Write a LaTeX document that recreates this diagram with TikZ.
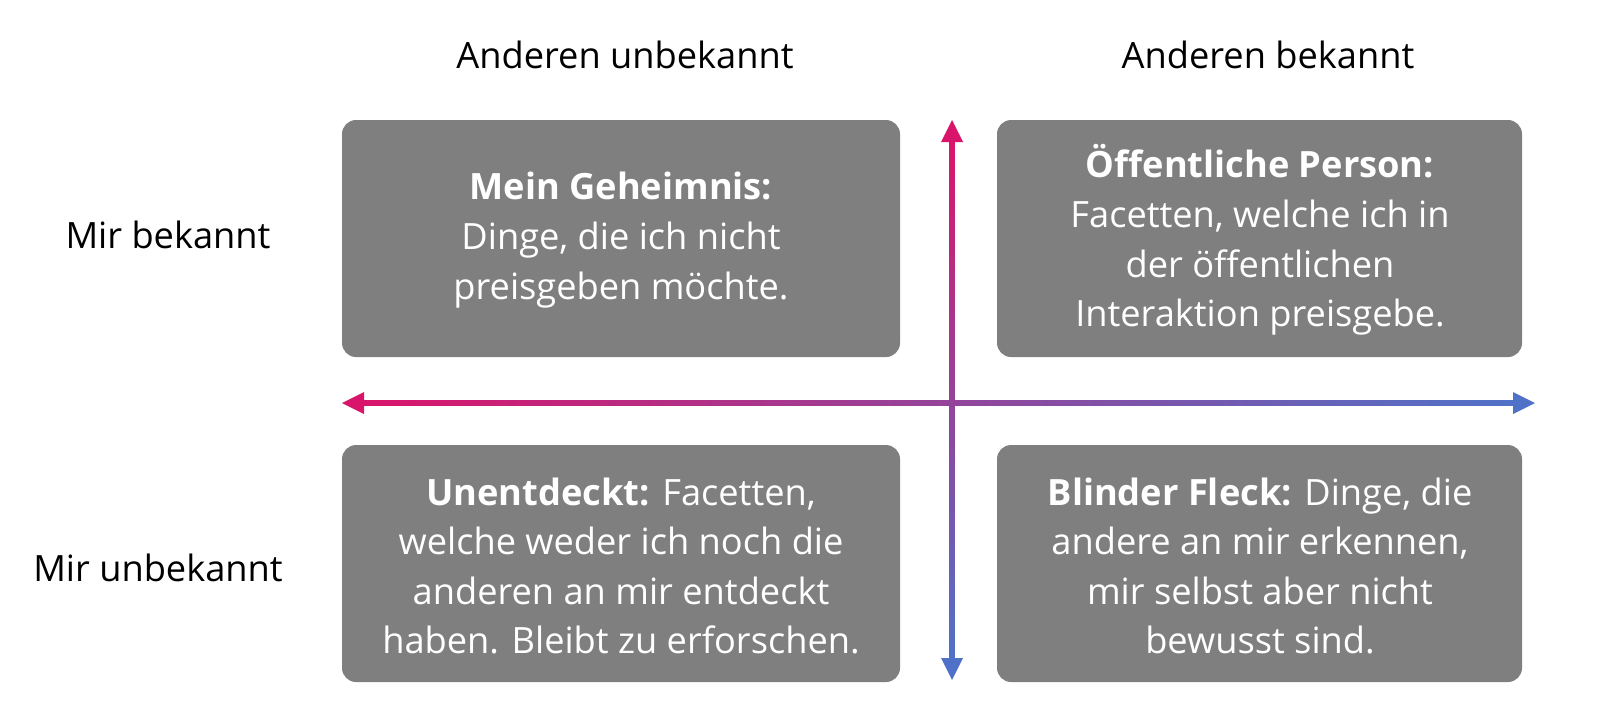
\documentclass[tikz,border=0pt]{standalone}
\usepackage{fontspec}
\setmainfont{Open Sans}
\definecolor{mag}{HTML}{D9156B}
\definecolor{blu}{HTML}{4F72C8}
\definecolor{boxg}{HTML}{7F7F7F}
\begin{document}
\begin{tikzpicture}[x=0.01cm,y=-0.01cm,
  quad/.style={fill=boxg,rounded corners=4pt,draw=none},
  qtext/.style={text=white,align=center,font=\fontsize{10.3}{14.1}\selectfont},
  lab/.style={font=\fontsize{10.3}{12}\selectfont}]
\useasboundingbox (0,0) rectangle (1600,726);
\path[quad] (342,120) rectangle (900,357) coordinate (q1);
\path[quad] (997,120) rectangle (1522,357) coordinate (q2);
\path[quad] (342,445) rectangle (900,682) coordinate (q3);
\path[quad] (997,445) rectangle (1522,682) coordinate (q4);
\node[qtext] (t1) at (621,240) {\textbf{Mein Geheimnis:}\\Dinge, die ich nicht\\preisgeben möchte.};
\node[qtext] (t2) at (1260,240) {\textbf{Öffentliche Person:}\\Facetten, welche ich in\\der öffentlichen\\Interaktion preisgebe.};
\node[qtext] (t3) at (621,566) {\textbf{Unentdeckt:} Facetten,\\welche weder ich noch die\\anderen an mir entdeckt\\haben. Bleibt zu erforschen.};
\node[qtext] (t4) at (1260,566) {\textbf{Blinder Fleck:} Dinge, die\\andere an mir erkennen,\\mir selbst aber nicht\\bewusst sind.};
\node[lab] (h1) at (625,55) {Anderen unbekannt};
\node[lab] (h2) at (1268,55) {Anderen bekannt};
\node[lab] (r1) at (168,235) {Mir bekannt};
\node[lab] (r2) at (158,568) {Mir unbekannt};
% horizontal arrow
\shade[left color=mag,right color=blu] (360,400.5) rectangle (1515,405.5);
\fill[mag] (342,403) -- (364,392) -- (364,414) -- cycle;
\fill[blu] (1535,403) -- (1513,392) -- (1513,414) -- cycle;
% vertical arrow
\shade[top color=mag,bottom color=blu] (949.5,140) rectangle (954.5,660);
\fill[mag] (952,120) -- (941,142) -- (963,142) -- cycle;
\fill[blu] (952,680) -- (941,658) -- (963,658) -- cycle;
\end{tikzpicture}
\end{document}
